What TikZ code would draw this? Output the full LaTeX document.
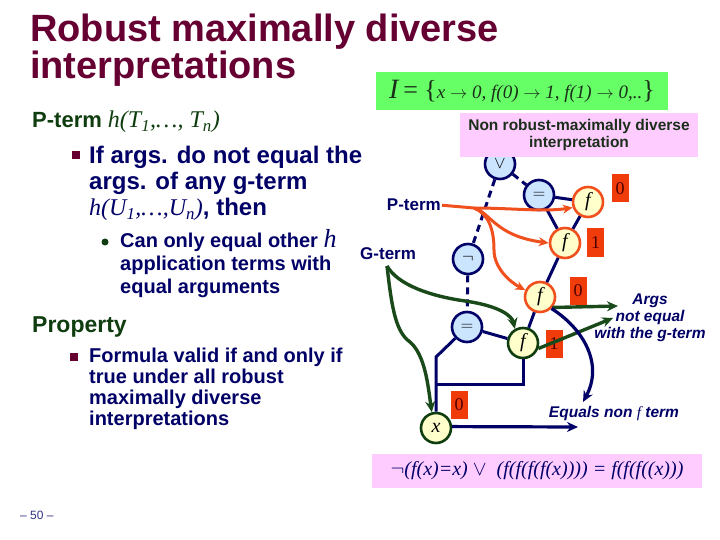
\documentclass[tikz,border=0pt]{standalone}
\usepackage{fontspec}
\setmainfont{Liberation Sans}
\newfontfamily\tms{Liberation Serif}
\usetikzlibrary{arrows.meta}

\definecolor{titlered}{HTML}{660033}
\definecolor{navyblue}{HTML}{000066}
\definecolor{darkgrn}{HTML}{0F3D0F}
\definecolor{grnarrow}{HTML}{1A4A1A}
\definecolor{opfill}{HTML}{CCE5FF}
\definecolor{ffill}{HTML}{FFFFCC}
\definecolor{orng}{HTML}{F0501E}
\definecolor{valred}{HTML}{F03C0A}
\definecolor{valtext}{HTML}{4D0000}
\definecolor{pinkbg}{HTML}{FFCCFF}
\definecolor{greenbg}{HTML}{66FF66}
\definecolor{boxtext}{HTML}{1A2E1A}

\begin{document}
\begin{tikzpicture}[x=1pt,y=-1pt,
        opnode/.style={
            circle,
            draw=navyblue,
            fill=opfill,
            line width=2.6pt,
            minimum size=30pt,
            inner sep=0pt,
            font=\fontsize{18}{18}\selectfont
        },
        fnode/.style={
            circle,
            draw=orng,
            fill=ffill,
            line width=2.6pt,
            minimum size=30pt,
            inner sep=0pt,
            font=\fontsize{20}{20}\selectfont\tms\itshape
        },
        gnode/.style={
            fnode,
            draw=darkgrn
        },
        valbox/.style={
            rectangle,
            fill=valred,
            text=valtext,
            minimum width=17pt,
            minimum height=28pt,
            inner sep=0pt,
            font=\fontsize{18}{18}\selectfont\tms
        },
        pinkbox/.style={
            rectangle,
            fill=pinkbg,
            inner sep=0pt,
            align=center
        },
        heading/.style={
            text=darkgrn,
            inner sep=0pt,
            font=\bfseries
        },
        item/.style={
            text=navyblue,
            align=left,
            inner sep=0pt
        },
        sqbullet/.style={
            rectangle,
            fill=titlered,
            minimum size=8pt,
            inner sep=0pt
        },
        dotbullet/.style={
            circle,
            fill=darkgrn,
            minimum size=7pt,
            inner sep=0pt
        },
        termlabel/.style={
            text=navyblue,
            inner sep=1pt,
            font=\fontsize{17}{17}\selectfont\bfseries
        },
        note/.style={
            text=navyblue,
            align=center,
            inner sep=0pt,
            font=\fontsize{15.5}{17}\selectfont\bfseries\itshape
        },
        tline/.style={
            draw=navyblue,
            line width=3pt
        },
        dline/.style={
            tline,
            dash pattern=on 7pt off 5pt
        },
        parrow/.style={
            -{Stealth[length=10pt,width=9pt]},
            draw=orng,
            line width=3pt
        },
        garrow/.style={
            -{Stealth[length=11pt,width=10pt]},
            draw=grnarrow,
            line width=3.4pt
        },
        narrow/.style={
            -{Stealth[length=11pt,width=10pt]},
            draw=navyblue,
            line width=3.2pt
        }
    ]

        \useasboundingbox (0,0) rectangle (720,540);

        % left column
        \node[anchor=north west, align=left, inner sep=0pt, text=titlered,
            font=\fontsize{38}{35}\selectfont\bfseries] (title) at (30,14)
            {Robust maximally diverse\\interpretations};

        \node[heading, anchor=base west, font=\fontsize{22}{22}\selectfont\bfseries] (pterm0) at (32,128)
            {P-term {\tms\mdseries\itshape\fontsize{24}{24}\selectfont h(T\textsubscript{1},…, T\textsubscript{n})}};

        \node[sqbullet] (sq1) at (76,155) {};
        \node[item, anchor=north west, font=\fontsize{24}{26}\selectfont\bfseries] (item1) at (89,146)
            {If args. do not equal the\\args. of any g-term\\{\tms\mdseries\itshape h(U\textsubscript{1},…,U\textsubscript{n})}, then};

        \node[dotbullet] (dot1) at (105,242) {};
        \node[item, anchor=north west, font=\fontsize{20}{23}\selectfont\bfseries] (sub1) at (120,229)
            {Can only equal other {\tms\mdseries\itshape\fontsize{26}{26}\selectfont h}\\application terms with\\equal arguments};

        \node[heading, anchor=base west, font=\fontsize{23}{23}\selectfont\bfseries] (prop) at (32,332) {Property};

        \node[sqbullet] (sq2) at (74,357) {};
        \node[item, anchor=north west, font=\fontsize{20}{21}\selectfont\bfseries] (item2) at (89,347.5)
            {Formula valid if and only if\\true under all robust\\maximally diverse\\interpretations};

        \node[anchor=base west, inner sep=0pt, text=navyblue!80!white, font=\fontsize{12}{12}\selectfont] (pagenum) at (20,519) {– 50 –};

        % term graph
        \node[opnode] (vee) at (500,164) {$\vee$};
        \node[opnode] (eqtop) at (539,195) {$=$};
        \node[opnode] (neg) at (468,259) {$\neg$};
        \node[opnode] (eqlow) at (467,327) {$=$};
        \node[fnode] (ftop) at (588,202) {f};
        \node[fnode] (fmid) at (565,243) {f};
        \node[fnode] (flow) at (540,297) {f};
        \node[gnode] (fgreen) at (523,343) {f};
        \node[gnode] (x) at (436,428) {x};

        \node[valbox] (v0top) at (620,188.5) {0};
        \node[valbox] (v1mid) at (595.5,242.5) {1};
        \node[valbox] (v0low) at (578,290.5) {0};
        \node[valbox] (v1green) at (554,344) {1};
        \node[valbox] (v0x) at (459,404.5) {0};

        \coordinate (kink) at (436,357);
        \coordinate (join) at (436,384);

        \draw[dline] (vee) -- (eqtop);
        \draw[dline] (vee) -- (neg);
        \draw[dline] (neg) -- (eqlow);

        \draw[tline] (eqtop) -- (ftop);
        \draw[tline] (eqtop) -- (fmid);
        \draw[tline] (ftop) -- (fmid);
        \draw[tline] (fmid) -- (flow);
        \draw[tline] (flow) -- (fgreen);
        \draw[tline] (eqlow) -- (fgreen);
        \draw[tline] (eqlow) -- (kink) -- (x);
        \draw[tline] (fgreen) |- (join);

        % P-term and G-term arrows
        \node[termlabel, anchor=base east] (pterm) at (442,211) {P-term};
        \node[termlabel, anchor=base west] (gterm) at (359,259) {G-term};

        \coordinate (branch) at (474,208);
        \coordinate (gstart) at (387,266);

        \draw[parrow] (pterm.east) -- (branch) .. controls (510,208) and (545,212) .. (ftop.200);
        \draw[parrow] (branch) .. controls (490,212) and (495,236) .. (fmid.west);
        \draw[parrow] (branch) .. controls (488,214) and (494,228) .. (494,250)
            .. controls (494,268) and (510,282) .. (flow.155);

        \draw[garrow] (gstart) .. controls (398,285) and (430,296) .. (465,301)
            .. controls (500,306) and (512,316) .. (fgreen.120);
        \draw[garrow] (gstart) .. controls (392,310) and (396,332) .. (410,342)
            .. controls (425,355) and (428,385) .. (x.105);

        \coordinate (argsend) at (618,306);
        \coordinate (neqend) at (613,318);
        \coordinate (nonfend) at (583,402);
        \coordinate (xend) at (578,427);

        \draw[garrow] (flow.-40) -- (argsend);
        \draw[garrow] (fgreen.-20) -- (neqend);
        \draw[narrow] (flow.-45) .. controls (585,330) and (603,365) .. (nonfend);
        \draw[narrow] (x.5) -- (xend);

        \node[note] (args) at (650,318) {Args\\not equal\\with the g-term};
        \node[note] (eqnonf) at (614,414) {Equals non {\tms\mdseries f} term};

        % boxes
        \node[pinkbox, minimum width=238pt, minimum height=44pt, text=boxtext,
            font=\fontsize{15.5}{17}\selectfont\bfseries] (nonrobust) at (579,135)
            {Non robust-maximally diverse\\interpretation};

        \node[rectangle, fill=greenbg, minimum width=292pt, minimum height=38pt, inner sep=0pt,
            text=boxtext, font=\fontsize{19}{19}\selectfont\tms] (interp) at (522,91)
            {{\fontsize{28}{28}\selectfont\itshape I} {\fontsize{26}{26}\selectfont = \{}\textit{x} $\rightarrow$ \textit{0, f(0)} $\rightarrow$ \textit{1, f(1)} $\rightarrow$ \textit{0,..}{\fontsize{26}{26}\selectfont\}}};

        \node[pinkbox, minimum width=330pt, minimum height=34pt, text=navyblue,
            font=\fontsize{20}{20}\selectfont\tms\itshape] (formula) at (537,471)
            {$\neg$(f(x)=x) $\vee$ \ (f(f(f(f(x)))) = f(f(f((x)))};

    \end{tikzpicture}
\end{document}
